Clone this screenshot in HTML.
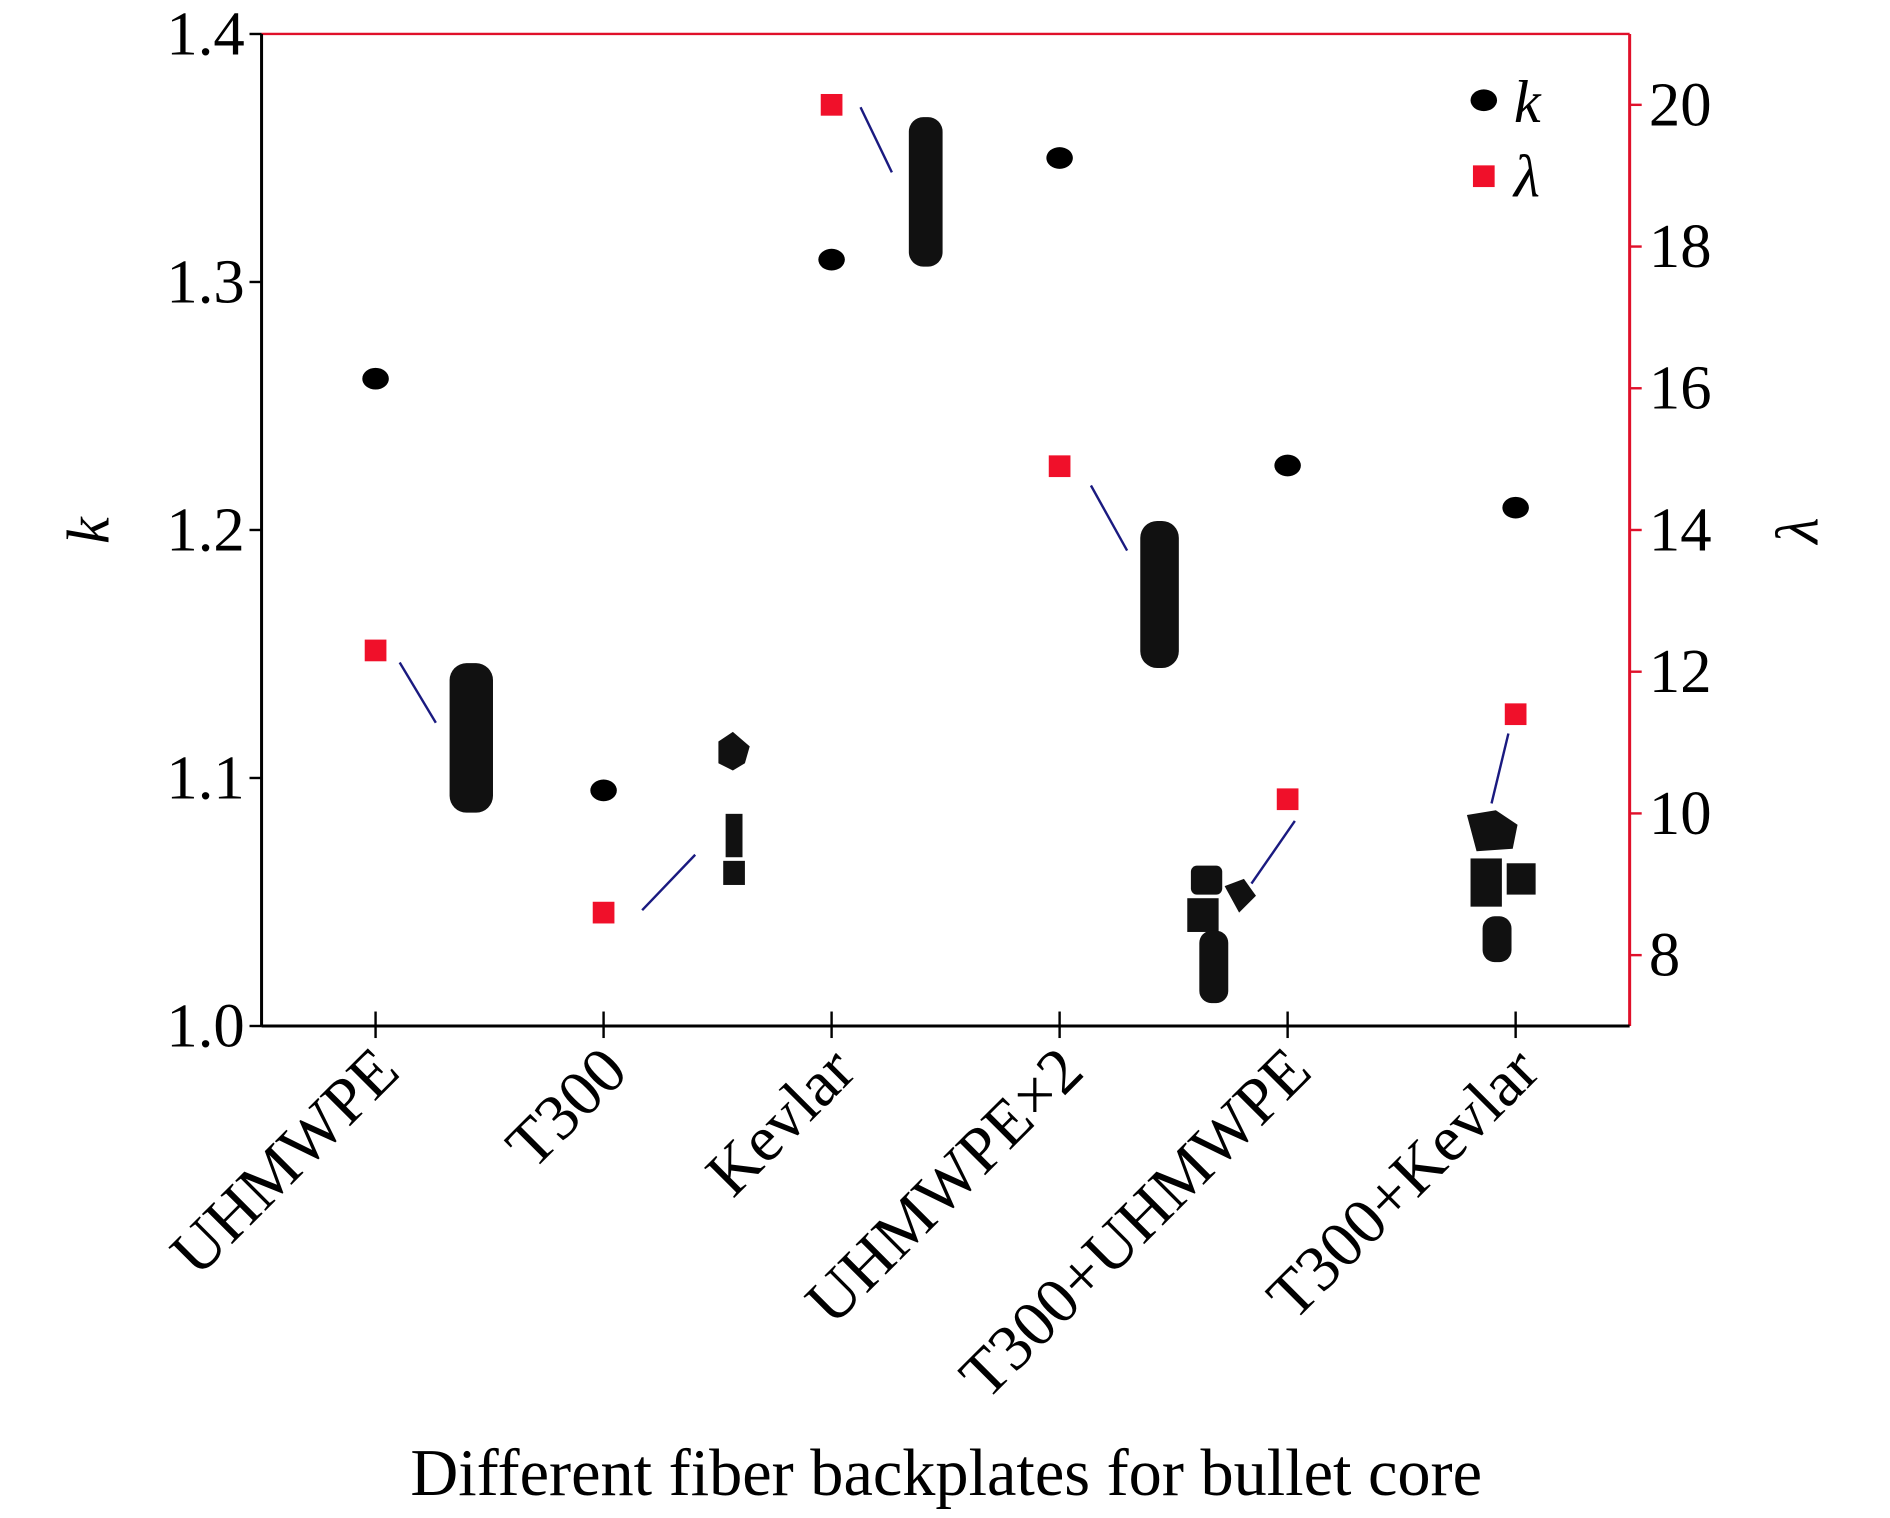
<!DOCTYPE html>
<html><head><meta charset="utf-8"><style>
html,body{margin:0;padding:0;background:#fff}
svg{display:block}
text{font-family:"Liberation Serif",serif}
</style></head><body>
<svg id="chart" width="1890" height="1518" viewBox="0 0 1568 1259" xmlns="http://www.w3.org/2000/svg">
<g id="bullets" fill="#111">
  <rect x="373" y="550" width="36" height="124" rx="14"/>
  <path d="M596 615 l12 -8 l14 12 l-4 14 l-10 6 l-12 -6z"/><rect x="602" y="675" width="14" height="36"/><rect x="600" y="714" width="18" height="20"/>
  <rect x="754" y="97" width="28" height="124" rx="12"/>
  <rect x="946" y="432" width="32" height="122" rx="14"/>
  <rect x="988" y="718" width="26" height="24" rx="5"/><path d="M1016 735 l16 -6 l10 14 l-14 14z"/><rect x="985" y="745" width="26" height="28"/><rect x="995" y="772" width="24" height="60" rx="10"/>
  <path d="M1217 676 l24 -4 l18 12 l-4 20 l-30 2z"/><rect x="1220" y="712" width="26" height="40"/><rect x="1250" y="716" width="24" height="26"/><rect x="1230" y="760" width="24" height="38" rx="10"/>
</g>
</svg>
<script>
const categories=["UHMWPE","T300","Kevlar","UHMWPE×2","T300+UHMWPE","T300+Kevlar"];
const kValues=[1.261,1.095,1.309,1.350,1.226,1.209];
const lambdaValues=[12.3,8.6,20.0,14.9,10.2,11.4];
const kTicks=[1.0,1.1,1.2,1.3,1.4];
const kTickLabels=["1.0","1.1","1.2","1.3","1.4"];
const lambdaTicks=[8,10,12,14,16,18,20];
const lambdaTickLabels=["8","10","12","14","16","18","20"];

const svg=document.getElementById('chart');
const NS='http://www.w3.org/2000/svg';
const L=217,R=1352,T=28,B=851;
const xPos=i=>L+(i+0.5)*(R-L)/categories.length;
const yK=v=>B-(v-1.0)/0.4*(B-T);
const yL=v=>B-(v-7)/14*(B-T);
function mk(tag,attrs,txt){const e=document.createElementNS(NS,tag);for(const k in attrs)e.setAttribute(k,attrs[k]);if(txt!==undefined)e.textContent=txt;svg.appendChild(e);return e;}

let e;
e=mk('line',{x1:L,y1:T,x2:R,y2:T,stroke:'#e0102a','stroke-width':2});


e=mk('line',{x1:R,y1:T,x2:R,y2:B,stroke:'#e0102a','stroke-width':2.5});


e=mk('line',{x1:L,y1:T,x2:L,y2:B,stroke:'#000','stroke-width':2.5});


e=mk('line',{x1:L,y1:B,x2:R,y2:B,stroke:'#000','stroke-width':2.5});



kTicks.forEach((v,i)=>{
  e=mk('line',{x1:L-10,y1:yK(v),x2:L,y2:yK(v),stroke:'#000','stroke-width':2});
  
  
  e=mk('text',{x:L-14,y:yK(v)+17,'text-anchor':'end','font-size':52},kTickLabels[i]);
  
  
});
lambdaTicks.forEach((v,i)=>{
  e=mk('line',{x1:R,y1:yL(v),x2:R+10,y2:yL(v),stroke:'#e0102a','stroke-width':2});
  
  
  e=mk('text',{x:R+16,y:yL(v)+17,'text-anchor':'start','font-size':52},lambdaTickLabels[i]);
  
  
});
categories.forEach((c,i)=>{
  const x=xPos(i);
  e=mk('line',{x1:x,y1:B-12,x2:x,y2:B+10,stroke:'#000','stroke-width':2});
  
  
  e=mk('text',{x:x+22,y:B+40,'text-anchor':'end','font-size':54,transform:`rotate(-45 ${x+22} ${B+40})`},c);
  
  
});
const connDx=[[20,10,50,60],[32,-2,76,-48],[24,2,50,56],[26,16,56,70],[6,18,-30,70],[-6,16,-20,74]];
lambdaValues.forEach((v,i)=>{
  const x=xPos(i),y=yL(v),d=connDx[i];
  e=mk('line',{x1:x+d[0],y1:y+d[1],x2:x+d[2],y2:y+d[3],stroke:'#1a1a80','stroke-width':2});
  
  
});
kValues.forEach((v,i)=>{
  e=mk('ellipse',{cx:xPos(i),cy:yK(v),rx:11,ry:9,fill:'#000'});
  
  
});
lambdaValues.forEach((v,i)=>{
  e=mk('rect',{x:xPos(i)-9,y:yL(v)-9,width:18,height:18,fill:'#f0102a'});
  
  
});
e=mk('ellipse',{cx:1231,cy:83,rx:11,ry:9,fill:'#000'});


e=mk('text',{x:1256,y:101,'font-size':50,'font-style':'italic'},'k');


e=mk('rect',{x:1222,y:137,width:18,height:18,fill:'#f0102a'});


e=mk('text',{x:1256,y:163,'font-size':50,'font-style':'italic'},'λ');


e=mk('text',{x:90,y:440,'font-size':50,'font-style':'italic','text-anchor':'middle',transform:'rotate(-90 90 440)'},'k');


e=mk('text',{x:1508,y:440,'font-size':50,'font-style':'italic','text-anchor':'middle',transform:'rotate(-90 1508 440)'},'λ');


e=mk('text',{x:785,y:1240,'font-size':55,'text-anchor':'middle'},'Different fiber backplates for bullet core');


</script>
</body></html>
